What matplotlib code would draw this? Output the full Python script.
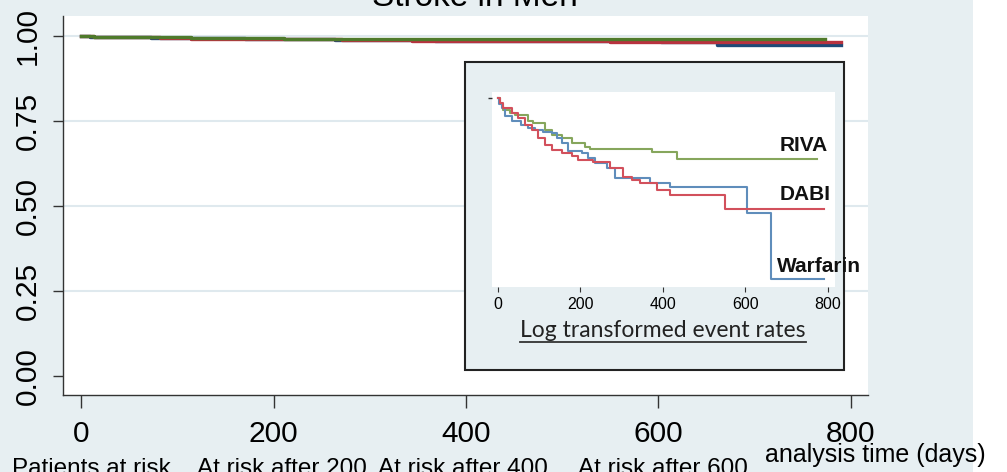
import numpy as np
import matplotlib
matplotlib.use("Agg")
import matplotlib.pyplot as plt
from matplotlib.patches import Rectangle
from matplotlib.lines import Line2D

plt.rcParams['font.family'] = ['Liberation Sans', 'DejaVu Sans']

# ---------------- data (Kaplan-Meier survival, stroke in men) ----------------
riva_days = [0, 4, 13, 29, 41, 73, 85, 114, 130, 154, 179, 211, 223, 373, 433, 773]
riva_surv = [1.0, 0.9991, 0.9982, 0.9977, 0.9974, 0.9964, 0.9961, 0.9951, 0.9943,
             0.9938, 0.9930, 0.9925, 0.9922, 0.9917, 0.9906, 0.9906]

warf_days = [0, 3, 9, 17, 33, 57, 73, 90, 110, 130, 142, 154, 170, 203, 219, 235,
             264, 284, 368, 417, 603, 661, 790]
warf_surv = [1.0, 0.9991, 0.9985, 0.9972, 0.9964, 0.9959, 0.9954, 0.9951, 0.9948,
             0.9946, 0.9938, 0.9930, 0.9918, 0.9915, 0.9907, 0.9900, 0.9892, 0.9876,
             0.9869, 0.9863, 0.9823, 0.9723, 0.9723]

dabi_days = [0, 4, 13, 33, 49, 65, 82, 98, 114, 130, 154, 179, 195, 231, 271, 303,
             324, 344, 385, 417, 550, 790]
dabi_surv = [1.0, 0.9992, 0.9985, 0.9977, 0.9969, 0.9959, 0.9951, 0.9938, 0.9928,
             0.9920, 0.9915, 0.9910, 0.9904, 0.9901, 0.9892, 0.9878, 0.9873, 0.9869,
             0.9858, 0.9850, 0.9829, 0.9829]

x_ticks = [0, 200, 400, 600, 800]
y_ticks = [0.0, 0.25, 0.5, 0.75, 1.0]
series_names = ["RIVA", "DABI", "Warfarin"]
risk_labels = ["Patients at risk", "At risk after 200", "At risk after 400", "At risk after 600"]

BG = "#e7eff2"
GRID = "#dfe9ee"
main_colors = {"RIVA": "#4f7a2b", "DABI": "#b8323f", "Warfarin": "#1c4a78"}
inset_colors = {"RIVA": "#86a65c", "DABI": "#d2505c", "Warfarin": "#5f8dbb"}

W, H = 1007, 472
fig = plt.figure(figsize=(W / 100, H / 100), dpi=100)
fig.patch.set_facecolor("white")
# light graph region
fig.add_artist(Rectangle((0, 0), 973 / W, 1, transform=fig.transFigure,
                         facecolor=BG, edgecolor="none", zorder=-10))

def fx(px):
    return px / W

def fy(py):
    return 1 - py / H

# ---------------- main axes ----------------
ax = fig.add_axes([fx(63), fy(395), fx(868) - fx(63), fy(16) - fy(395)])
ax.set_facecolor("white")
ax.set_xlim(-19, 818)
ax.set_ylim(-0.056, 1.059)
for y in y_ticks[1:]:
    ax.axhline(y, color=GRID, lw=1.5, zorder=0)

data = {"RIVA": (riva_days, riva_surv), "DABI": (dabi_days, dabi_surv),
        "Warfarin": (warf_days, warf_surv)}
for name in ["Warfarin", "DABI", "RIVA"]:
    t, s = data[name]
    ax.step(t, s, where="post", color=main_colors[name], lw=2.4, zorder=3)

for sp in ["top", "right"]:
    ax.spines[sp].set_visible(False)
for sp in ["left", "bottom"]:
    ax.spines[sp].set_color("#333333")
    ax.spines[sp].set_linewidth(1.0)
ax.set_xticks(x_ticks)
ax.set_xticklabels([str(v) for v in x_ticks])
ax.set_yticks(y_ticks)
ax.set_yticklabels([f"{v:.2f}" for v in y_ticks], rotation=90, va="center")
ax.tick_params(axis="x", length=9, width=1, color="#333333", labelsize=21.5, pad=9)
ax.tick_params(axis="y", length=7, width=1, color="#333333", labelsize=21.5, pad=8)

# title (partly cut off at the top)
fig.text(fx(475), fy(6), "Stroke in Men", ha="center", va="baseline", fontsize=24)

# x label and at-risk labels
fig.text(fx(765), fy(462), "analysis time (days)", ha="left", va="baseline", fontsize=18)
risk_x = [12, 197, 378, 578]
for lbl, x in zip(risk_labels, risk_x):
    fig.text(fx(x), fy(475), lbl, ha="left", va="baseline", fontsize=17.5)

# ---------------- inset ----------------
fig.add_artist(Rectangle((fx(465), fy(370)), fx(844) - fx(465), fy(62) - fy(370),
                         transform=fig.transFigure, facecolor=BG,
                         edgecolor="#222222", lw=1.5, zorder=1))
iax = fig.add_axes([fx(492), fy(287), fx(835) - fx(492), fy(92) - fy(287)], zorder=2)
iax.set_facecolor("white")
iax.set_xlim(-14.5, 817)
iax.set_ylim(-0.0293, 0.00093)
for name in ["RIVA", "Warfarin", "DABI"]:
    t, s = data[name]
    iax.step(t, np.log(s), where="post", color=inset_colors[name], lw=1.5)
for sp in iax.spines.values():
    sp.set_visible(False)
iax.set_xticks(x_ticks)
iax.set_xticklabels([str(v) for v in x_ticks])
iax.set_yticks([0])
iax.set_yticklabels([""])
iax.tick_params(axis="x", length=3.5, width=0.8, color="#333333", labelsize=11.5, pad=4)
iax.tick_params(axis="y", length=3, width=1, color="#333333")

label_pos = {"RIVA": (780, 145.5), "DABI": (780, 194.7), "Warfarin": (777, 266)}
for name in series_names:
    x, y = label_pos[name]
    fig.text(fx(x), fy(y), name, ha="left", va="center", fontsize=15,
             fontweight="bold", color="#111111", zorder=5)

sub = fig.text(fx(663), fy(337), "Log transformed event rates", ha="center",
               va="baseline", fontsize=16.5, family=['Lato', 'DejaVu Sans'], color="#222222")
fig.canvas.draw()
bb = sub.get_window_extent(renderer=fig.canvas.get_renderer())
uy = fy(342)
fig.add_artist(Line2D([bb.x0 / W, bb.x1 / W], [uy, uy], transform=fig.transFigure,
                      color="#333333", lw=1.3))

fig.savefig("out.png", dpi=100, facecolor=fig.get_facecolor())
